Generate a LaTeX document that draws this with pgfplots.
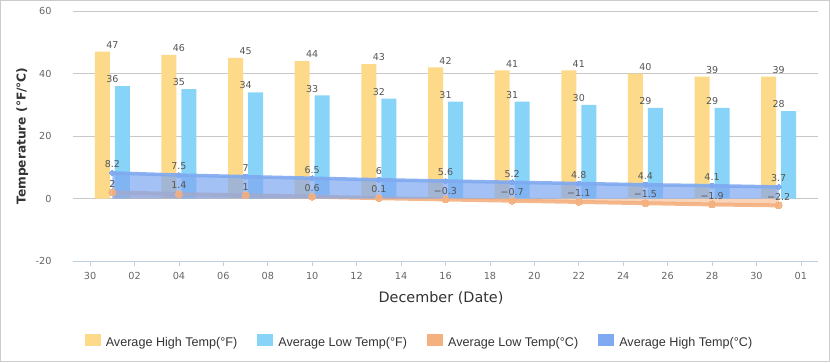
\documentclass[border=0pt]{standalone}
\usepackage{pgfplots}
\pgfplotsset{compat=1.18}
\usepackage{fontspec}
\setmainfont{DejaVu Sans}
\newfontfamily\legfont{Liberation Sans}
\definecolor{yellowc}{RGB}{253,218,138}
\definecolor{lbluec}{RGB}{135,212,248}
\definecolor{orangec}{RGB}{244,176,127}
\definecolor{bluec}{RGB}{127,169,240}
\definecolor{gridc}{RGB}{200,200,200}
\definecolor{axc}{RGB}{192,208,224}
\definecolor{tickc}{RGB}{102,102,102}
\definecolor{labc}{RGB}{85,85,85}
\definecolor{titc}{RGB}{51,51,51}
\begin{document}
\begin{tikzpicture}
\path[use as bounding box] (0pt,0pt) rectangle (830pt,-362pt);
\draw[color=gray!40, line width=1pt] (0.5pt,-0.5pt) rectangle (829.5pt,-361.5pt);
\begin{axis}[
  at={(73pt,-261pt)}, anchor=south west,
  scale only axis, width=745pt, height=250pt,
  xmin=-0.77, xmax=32.77, ymin=-20, ymax=60,
  ytick={-20,0,20,40,60},
  xtick={0,2,...,32},
  xticklabels={30,02,04,06,08,10,12,14,16,18,20,22,24,26,28,30,01},
  axis x line*=bottom, axis y line*=left,
  x axis line style={draw=axc, line width=1pt, -},
  y axis line style={draw=none},
  ymajorgrids, grid style={draw=gridc, line width=0.9pt},
  xtick style={draw=axc, line width=0.8pt},
  ytick style={/pgfplots/major tick length=0pt},
  tick align=outside, major tick length=5pt,
  /pgf/number format/assume math mode=true,
  ticklabel style={font=\fontsize{9.7}{11}\selectfont, text=tickc},
  yticklabel style={anchor=east, xshift=-13pt},
  xticklabel style={yshift=-3pt},
  ylabel={\bfseries Temperature (°F/°C)},
  ylabel style={at={(axis description cs:-0.068,0.5)}, anchor=center, font=\fontsize{12.2}{14}\selectfont, text=titc},
  xlabel={December (Date)},
  xlabel style={at={(axis description cs:0.494,-0.148)}, anchor=center, font=\fontsize{14.4}{16}\selectfont, text=titc},
  legend columns=4,
  legend style={at={(axis description cs:0.4638,-0.32)}, anchor=center, draw=none, fill=none,
     font=\legfont\fontsize{12.6}{14}\selectfont, text=titc,
     /tikz/every even column/.append style={column sep=20pt},
     /tikz/every odd column/.append style={column sep=5pt},
     nodes={inner sep=0pt}},
  clip=false,
]
% bars
\addplot[ybar, bar width=15pt, bar shift=-10pt, fill=yellowc, draw=none,
  nodes near coords, every node near coord/.append style={font=\fontsize{9.5}{11}\selectfont, text=labc, inner sep=3pt},
  legend image code/.code={\fill[yellowc, fill opacity=1] (0pt,-4pt) rectangle (16pt,8pt);}]
coordinates {(1,47) (4,46) (7,45) (10,44) (13,43) (16,42) (19,41) (22,41) (25,40) (28,39) (31,39)};
\addlegendentry{Average High Temp(°F)}
\addplot[ybar, bar width=15pt, bar shift=10pt, fill=lbluec, draw=none,
  nodes near coords, every node near coord/.append style={font=\fontsize{9.5}{11}\selectfont, text=labc, inner sep=3pt},
  legend image code/.code={\fill[lbluec, fill opacity=1] (0pt,-4pt) rectangle (16pt,8pt);}]
coordinates {(1,36) (4,35) (7,34) (10,33) (13,32) (16,31) (19,31) (22,30) (25,29) (28,29) (31,28)};
\addlegendentry{Average Low Temp(°F)}
% low (C) area and line
\addplot[fill=orangec, fill opacity=0.55, draw=none,
  legend image code/.code={\fill[orangec, fill opacity=1] (0pt,-4pt) rectangle (16pt,8pt);}]
coordinates {(1,2) (4,1.4) (7,1) (10,0.6) (13,0.1) (16,-0.3) (19,-0.7) (22,-1.1) (25,-1.5) (28,-1.9) (31,-2.2)} \closedcycle;
\addlegendentry{Average Low Temp(°C)}
\addplot[forget plot, color=orangec, line width=4pt, opacity=0.9, mark=*, mark size=3.5pt,
  mark options={line width=0pt}]
coordinates {(1,2) (4,1.4) (7,1) (10,0.6) (13,0.1) (16,-0.3) (19,-0.7) (22,-1.1) (25,-1.5) (28,-1.9) (31,-2.2)};
% high (C) area and line
\addplot[fill=bluec, fill opacity=0.72, draw=none,
  legend image code/.code={\fill[bluec, fill opacity=1] (0pt,-4pt) rectangle (16pt,8pt);}]
coordinates {(1,8.2) (4,7.5) (7,7) (10,6.5) (13,6) (16,5.6) (19,5.2) (22,4.8) (25,4.4) (28,4.1) (31,3.7)} \closedcycle;
\addlegendentry{Average High Temp(°C)}
\addplot[forget plot, color=bluec, line width=3.5pt, opacity=0.9, mark=*, mark size=2.5pt,
  mark options={line width=0pt},
  nodes near coords, every node near coord/.append style={font=\fontsize{9.5}{11}\selectfont, text=labc, opacity=1, anchor=south, yshift=2pt, inner sep=3pt}]
coordinates {(1,8.2) (4,7.5) (7,7) (10,6.5) (13,6) (16,5.6) (19,5.2) (22,4.8) (25,4.4) (28,4.1) (31,3.7)};
% labels of low (C) on top
\addplot[forget plot, draw=none, mark=none,
  point meta=explicit symbolic,
  nodes near coords, every node near coord/.append style={font=\fontsize{9.5}{11}\selectfont, text=labc, opacity=1, anchor=south, yshift=2pt, inner sep=3pt}]
coordinates {(1,2) [2] (4,1.4) [1.4] (7,1) [1] (10,0.6) [0.6] (13,0.1) [0.1] (16,-0.3) [−0.3] (19,-0.7) [−0.7] (22,-1.1) [−1.1] (25,-1.5) [−1.5] (28,-1.9) [−1.9] (31,-2.2) [−2.2]};
\end{axis}
\end{tikzpicture}
\end{document}
